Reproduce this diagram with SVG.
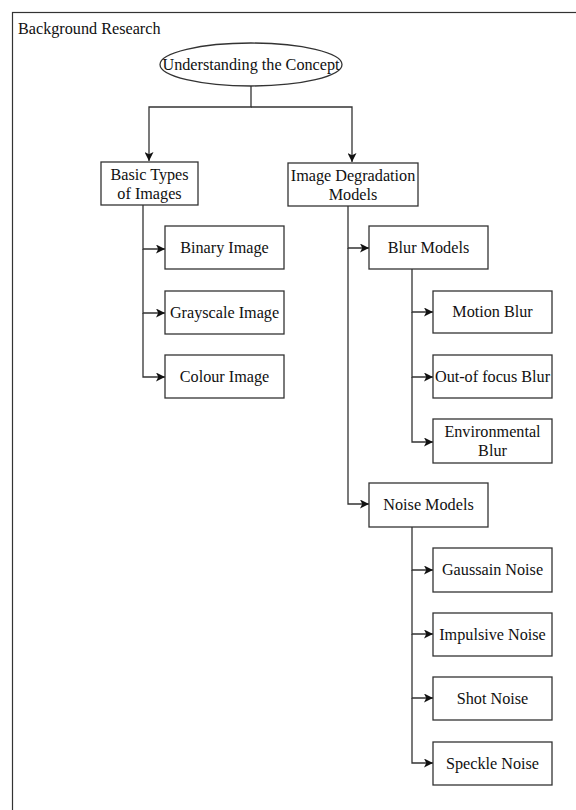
<svg xmlns="http://www.w3.org/2000/svg" width="576" height="810" viewBox="0 0 576 810">
<style>
.box{fill:#fff;stroke:#333;stroke-width:1.3}
.t{font-family:"Liberation Serif","Times New Roman",serif;font-size:16.2px;fill:#111;text-anchor:middle}
.c{fill:none;stroke:#333;stroke-width:1.3}
</style>
<defs>
<marker id="ah" viewBox="0 0 10 10" refX="10" refY="5" markerWidth="9.5" markerHeight="9" markerUnits="userSpaceOnUse" orient="auto">
<path d="M0,0 L10,5 L0,10 L2.5,5 Z" fill="#111"/>
</marker>
</defs>
<rect x="12.5" y="12.5" width="600" height="820" fill="#fff" stroke="#333" stroke-width="1.2"/>
<text x="18" y="34" class="t" style="text-anchor:start">Background Research</text>
<g id="connectors">
<path class="c" d="M251,86 V107 H149 V161" marker-end="url(#ah)"/>
<path class="c" d="M251,107 H352 V162" marker-end="url(#ah)"/>
<path class="c" d="M143,205 V249 H165" marker-end="url(#ah)"/>
<path class="c" d="M143,249 V313 H165" marker-end="url(#ah)"/>
<path class="c" d="M143,313 V377 H165" marker-end="url(#ah)"/>
<path class="c" d="M348,206 V248 H369" marker-end="url(#ah)"/>
<path class="c" d="M348,248 V504 H369" marker-end="url(#ah)"/>
<path class="c" d="M412,269 V312 H433" marker-end="url(#ah)"/>
<path class="c" d="M412,312 V377 H433" marker-end="url(#ah)"/>
<path class="c" d="M412,377 V442 H433" marker-end="url(#ah)"/>
<path class="c" d="M412,527 V570 H433" marker-end="url(#ah)"/>
<path class="c" d="M412,570 V634 H433" marker-end="url(#ah)"/>
<path class="c" d="M412,634 V698 H433" marker-end="url(#ah)"/>
<path class="c" d="M412,698 V763 H433" marker-end="url(#ah)"/>
</g>
<g id="concept"><ellipse cx="251" cy="64.5" rx="91" ry="21.5" class="box"/><text x="251" y="70" class="t">Understanding the Concept</text></g>
<g id="basic"><rect x="101" y="162" width="97" height="43" class="box"/><text x="149.5" y="180" class="t">Basic Types</text><text x="149.5" y="199" class="t">of Images</text></g>
<g id="degradation"><rect x="288" y="163" width="130" height="43" class="box"/><text x="353" y="181" class="t">Image Degradation</text><text x="353" y="200" class="t">Models</text></g>
<g id="binary"><rect x="165" y="226" width="119" height="43" class="box"/><text x="224.5" y="253" class="t">Binary Image</text></g>
<g id="grayscale"><rect x="165" y="291" width="119" height="43" class="box"/><text x="224.5" y="318" class="t">Grayscale Image</text></g>
<g id="colour"><rect x="165" y="355" width="119" height="43" class="box"/><text x="224.5" y="382" class="t">Colour Image</text></g>
<g id="blur"><rect x="369" y="226" width="119" height="43" class="box"/><text x="428.5" y="253" class="t">Blur Models</text></g>
<g id="motion"><rect x="433" y="291" width="119" height="42" class="box"/><text x="492.5" y="317" class="t">Motion Blur</text></g>
<g id="outfocus"><rect x="433" y="355" width="119" height="43" class="box"/><text x="492.5" y="382" class="t">Out-of focus Blur</text></g>
<g id="environmental"><rect x="433" y="419" width="119" height="44" class="box"/><text x="492.5" y="437" class="t">Environmental</text><text x="492.5" y="456" class="t">Blur</text></g>
<g id="noise"><rect x="369" y="483" width="119" height="44" class="box"/><text x="428.5" y="510" class="t">Noise Models</text></g>
<g id="gaussain"><rect x="433" y="548" width="119" height="44" class="box"/><text x="492.5" y="575" class="t">Gaussain Noise</text></g>
<g id="impulsive"><rect x="433" y="613" width="119" height="43" class="box"/><text x="492.5" y="640" class="t">Impulsive Noise</text></g>
<g id="shot"><rect x="433" y="677" width="119" height="43" class="box"/><text x="492.5" y="704" class="t">Shot Noise</text></g>
<g id="speckle"><rect x="433" y="742" width="119" height="43" class="box"/><text x="492.5" y="769" class="t">Speckle Noise</text></g>
</svg>
